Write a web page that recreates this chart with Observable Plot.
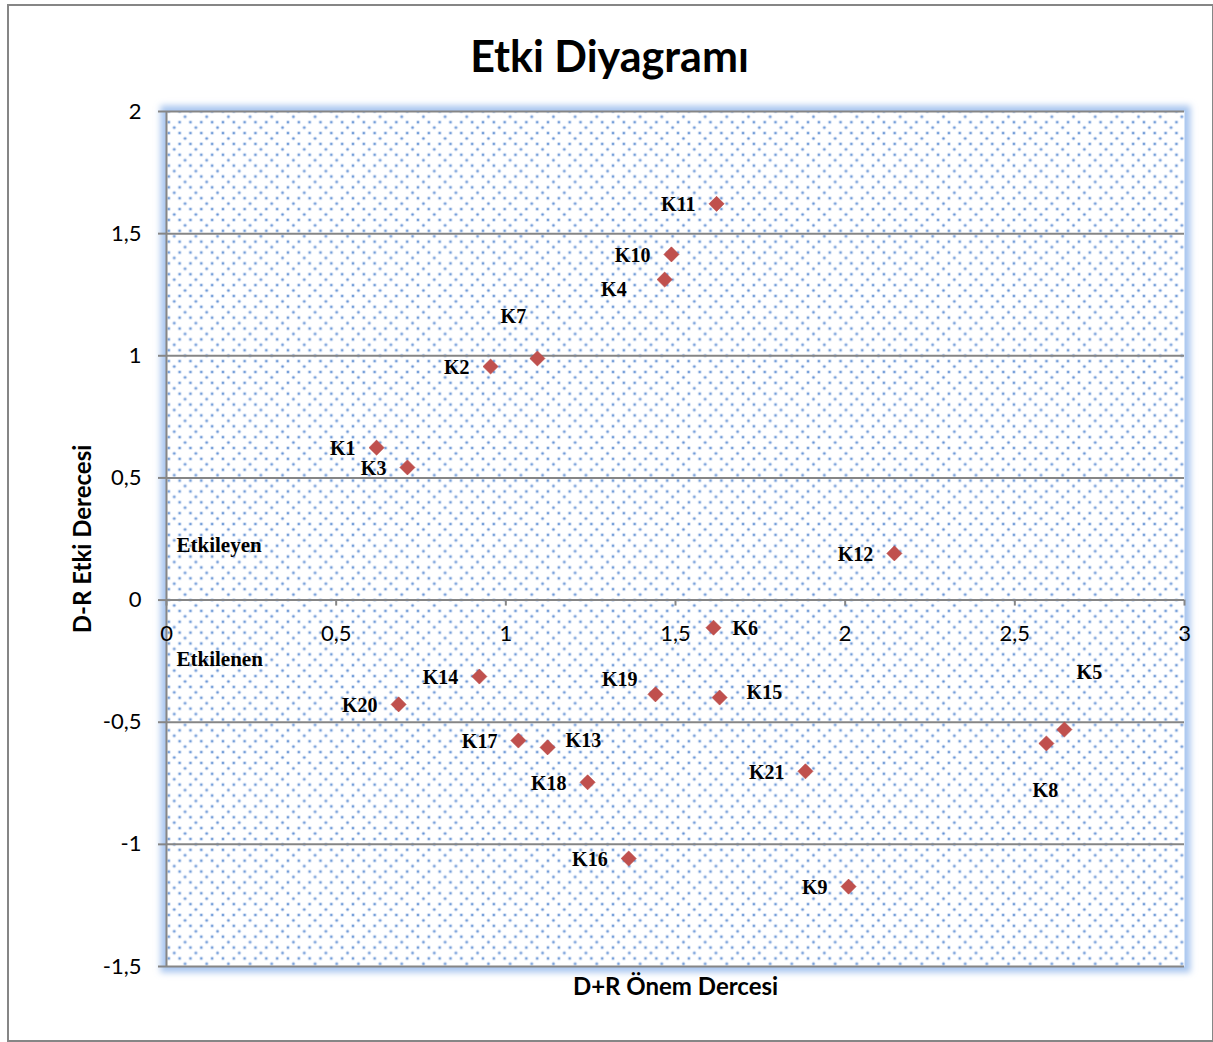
<!DOCTYPE html>
<html>
<head>
<meta charset="utf-8">
<script src="https://cdn.jsdelivr.net/npm/d3@7"></script>
<script src="https://cdn.jsdelivr.net/npm/@observablehq/plot@0.6"></script>
<style>
  html, body { margin: 0; padding: 0; background: #fff; }
  #wrap { position: relative; width: 1213px; height: 1042px; overflow: hidden; }
  #border { position: absolute; left: 7px; top: 4px; width: 1203px; height: 1034px; border: 2px solid #868686; }
  #title { position: absolute; left: 7px; top: 30px; width: 1205px; text-align: center;
           font-family: Lato, "Open Sans", sans-serif; font-weight: 700; font-size: 43px; line-height: 52px; color: #000; }
  #chart { position: absolute; left: 0; top: 0; }
</style>
</head>
<body>
<div id="wrap">
  <div id="border"></div>
  <div id="chart"></div>
  <div id="title">Etki Diyagramı</div>
</div>
<script>
// ---- data ----
const names = ["K1","K2","K3","K4","K5","K6","K7","K8","K9","K10","K11","K12","K13","K14","K15","K16","K17","K18","K19","K20","K21"];
const dPlusR  = [0.619, 0.955, 0.710, 1.468, 2.646, 1.612, 1.093, 2.593, 2.010, 1.488, 1.621, 2.145, 1.123, 0.922, 1.630, 1.362, 1.037, 1.241, 1.441, 0.684, 1.883];
const dMinusR = [0.624, 0.956, 0.543, 1.312, -0.530, -0.113, 0.989, -0.587, -1.173, 1.415, 1.622, 0.191, -0.603, -0.313, -0.399, -1.058, -0.575, -0.746, -0.386, -0.427, -0.701];
const labelSide = ["W","W","W","SW","NE","E","NW","S","W","W","W","W","EN","W","ENE","W","W","W","WN","W","W"];
const xTicks = [0, 0.5, 1, 1.5, 2, 2.5, 3];
const yTicks = [-1.5, -1, -0.5, 0, 0.5, 1, 1.5, 2];
const zoneNames = ["Etkileyen", "Etkilenen"];
const zoneY = [0.224, -0.243];
const xTitle = "D+R Önem Dercesi";
const yTitle = "D-R Etki Derecesi";

const points = names.map((n, i) => ({name: n, x: dPlusR[i], y: dMinusR[i], side: labelSide[i]}));
const zones = zoneNames.map((n, i) => ({name: n, y: zoneY[i]}));
const fmt = d => String(d).replace(".", ",");

const sideOpts = {
  W:   {dx: -21, dy: 1,   textAnchor: "end"},
  WN:  {dx: -18, dy: -15, textAnchor: "end"},
  E:   {dx: 19,  dy: 1,   textAnchor: "start"},
  EN:  {dx: 18,  dy: -7,  textAnchor: "start"},
  ENE: {dx: 27,  dy: -5,  textAnchor: "start"},
  SW:  {dx: -38, dy: 10,  textAnchor: "end"},
  NW:  {dx: -24, dy: -42, textAnchor: "middle"},
  NE:  {dx: 25,  dy: -57, textAnchor: "middle"},
  S:   {dx: -1,  dy: 47,  textAnchor: "middle"}
};

const tickFont = "Lato, 'Open Sans', sans-serif";
const labelFont = "'Liberation Serif', 'DejaVu Serif', serif";
const gray = "#868686";

const labelMarks = Object.entries(sideOpts).map(([side, o]) =>
  Plot.text(points.filter(p => p.side === side), {
    x: "x", y: "y", text: "name", dx: o.dx, dy: o.dy, textAnchor: o.textAnchor,
    fontFamily: labelFont, fontWeight: "bold", fontSize: 20, fill: "#000"
  })
);

const plot = Plot.plot({
  width: 1213,
  height: 1042,
  marginLeft: 166,
  marginRight: 29,
  marginTop: 111,
  marginBottom: 76,
  style: {background: "transparent", overflow: "visible"},
  x: {domain: [0, 3], axis: null},
  y: {domain: [-1.5, 2], axis: null},
  marks: [
    Plot.frame({fill: "#a9c6ef", inset: -6}),
    Plot.frame({fill: "url(#dots)"}),
    Plot.ruleY(yTicks, {y: d => d, stroke: gray, strokeWidth: 2}),
    Plot.ruleX([0], {stroke: gray, strokeWidth: 2}),
    Plot.ruleX(xTicks, {x: d => d, y1: 0, y2: 0, insetBottom: -6, stroke: gray, strokeWidth: 2}),
    Plot.ruleY(yTicks, {y: d => d, x1: 0, x2: 0, insetLeft: -8, stroke: gray, strokeWidth: 2}),
    Plot.text(xTicks, {x: d => d, y: 0, text: fmt, dy: 34, fontFamily: tickFont, fontSize: 22, fill: "#000"}),
    Plot.text(yTicks, {x: 0, y: d => d, text: fmt, dx: -25, textAnchor: "end", fontFamily: tickFont, fontSize: 22, fill: "#000"}),
    Plot.text(zones, {x: 0, y: "y", text: "name", dx: 10, textAnchor: "start", fontFamily: labelFont, fontWeight: "bold", fontSize: 21, fill: "#000"}),
    Plot.dot(points, {x: "x", y: "y", symbol: "diamond2", r: 6.8, fill: "#c0504d", stroke: "#b5413e", strokeWidth: 0.6}),
    ...labelMarks,
    Plot.text([xTitle], {frameAnchor: "bottom", dy: 21, lineAnchor: "middle", textAnchor: "middle", text: d => d, fontFamily: tickFont, fontWeight: "bold", fontSize: 24, fill: "#000"}),
    Plot.text([yTitle], {frameAnchor: "left", dx: -83, rotate: -90, lineAnchor: "middle", textAnchor: "middle", text: d => d, fontFamily: tickFont, fontWeight: "bold", fontSize: 24, fill: "#000"})
  ]
});

// pattern + glow filter definitions
const svg = d3.select(plot);
const defs = svg.insert("defs", ":first-child");
const pat = defs.append("pattern").attr("id", "dots").attr("patternUnits", "userSpaceOnUse")
  .attr("x", 168.3).attr("y", 121.7).attr("width", 21.67).attr("height", 21.72);
pat.append("rect").attr("width", 21.67).attr("height", 21.72).attr("fill", "#fff");
[[0,0],[10.83,0],[21.67,0],[5.42,5.43],[0,10.86],[10.83,10.86],[21.67,10.86],[16.25,16.29],[0,21.72],[10.83,21.72],[21.67,21.72]]
  .forEach(([cx, cy]) => {
    pat.append("circle").attr("cx", cx).attr("cy", cy).attr("r", 1.9).attr("fill", "#cddcf3");
    pat.append("circle").attr("cx", cx).attr("cy", cy).attr("r", 1.1).attr("fill", "#6492d3");
  });
const filt = defs.append("filter").attr("id", "glow").attr("x", "-5%").attr("y", "-5%").attr("width", "110%").attr("height", "110%");
filt.append("feGaussianBlur").attr("stdDeviation", 3);
const frames = svg.selectAll("g[aria-label='frame'], rect[aria-label='frame']").nodes();
if (frames.length) d3.select(frames[0]).attr("filter", "url(#glow)");

document.getElementById("chart").appendChild(plot);
</script>
</body>
</html>
